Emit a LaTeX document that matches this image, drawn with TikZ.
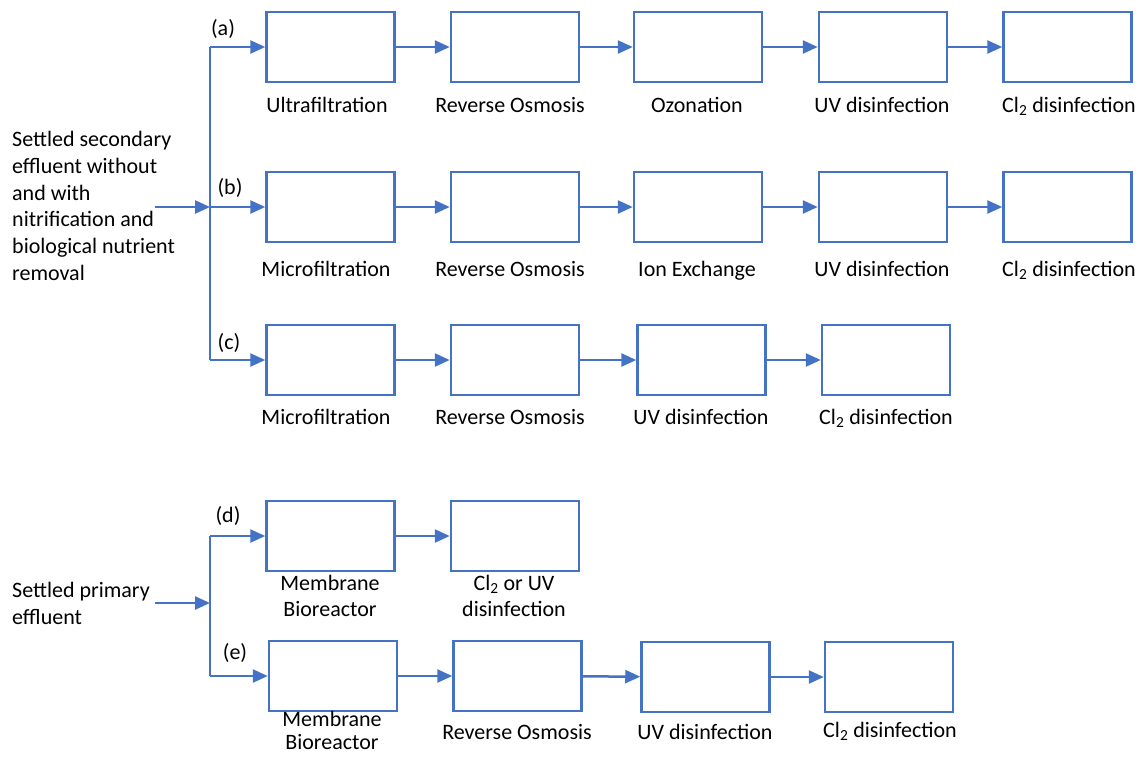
\documentclass[tikz,border=0pt]{standalone}
\usepackage{fontspec}
\setmainfont{Carlito}
\usetikzlibrary{arrows.meta}
\definecolor{flowblue}{HTML}{4472C4}
\begin{document}
\begin{tikzpicture}[x=1pt,y=-1pt,
  box/.style={draw=flowblue,line width=2.5pt,minimum width=128pt,minimum height=70pt,inner sep=0pt},
  flow/.style={draw=flowblue,line width=2.5pt,-{Triangle[length=15pt,width=13pt]}},
  line/.style={draw=flowblue,line width=2.5pt},
  lbl/.style={font=\fontsize{22}{26}\selectfont,inner sep=0pt,anchor=base},
  lbl2/.style={font=\fontsize{22}{26}\selectfont,inner sep=0pt,align=center,anchor=north},
  txt/.style={font=\fontsize{22}{26.8}\selectfont,inner sep=0pt,align=left,anchor=north west}]
\useasboundingbox (0,0) rectangle (1142,756);
% secondary effluent group
\node[txt] (src1) at (12,131) {Settled secondary\\effluent without\\and with\\nitrification and\\biological nutrient\\removal};
\coordinate (in1) at (155,207);
\coordinate (ta) at (210,47);
\coordinate (tb) at (210,207);
\coordinate (tc) at (210,360);
\draw[line] (ta) -- (tc);
\draw[flow] (in1) -- (tb);
% row a
\node[box] (a1) at (330.5,47) {};
\node[box] (a2) at (515,47) {};
\node[box] (a3) at (698,47) {};
\node[box] (a4) at (883,47) {};
\node[box] (a5) at (1067.5,47) {};
\node[lbl] (la) at (223,35) {(a)};
\draw[flow] (ta) -- (a1.west);
\draw[flow] (a1) -- (a2);
\draw[flow] (a2) -- (a3);
\draw[flow] (a3) -- (a4);
\draw[flow] (a4) -- (a5);
\node[lbl] (ta1) at (327,112) {Ultrafiltration};
\node[lbl] (ta2) at (510,112) {Reverse Osmosis};
\node[lbl] (ta3) at (697,112) {Ozonation};
\node[lbl] (ta4) at (882,112) {UV disinfection};
\node[lbl] (ta5) at (1069,112) {Cl\textsubscript{2} disinfection};
% row b
\node[box] (b1) at (330.5,207) {};
\node[box] (b2) at (515,207) {};
\node[box] (b3) at (698,207) {};
\node[box] (b4) at (883,207) {};
\node[box] (b5) at (1067.5,207) {};
\node[lbl] (lb) at (230,194) {(b)};
\draw[flow] (tb) -- (b1.west);
\draw[flow] (b1) -- (b2);
\draw[flow] (b2) -- (b3);
\draw[flow] (b3) -- (b4);
\draw[flow] (b4) -- (b5);
\node[lbl] (tb1) at (326,276) {Microfiltration};
\node[lbl] (tb2) at (510,276) {Reverse Osmosis};
\node[lbl] (tb3) at (697,276) {Ion Exchange};
\node[lbl] (tb4) at (882,276) {UV disinfection};
\node[lbl] (tb5) at (1069,276) {Cl\textsubscript{2} disinfection};
% row c
\node[box] (c1) at (330.5,360) {};
\node[box] (c2) at (515,360) {};
\node[box] (c3) at (701.5,360) {};
\node[box] (c4) at (886,360) {};
\node[lbl] (lc) at (229,349) {(c)};
\draw[flow] (tc) -- (c1.west);
\draw[flow] (c1) -- (c2);
\draw[flow] (c2) -- (c3);
\draw[flow] (c3) -- (c4);
\node[lbl] (tc1) at (326,424) {Microfiltration};
\node[lbl] (tc2) at (510,424) {Reverse Osmosis};
\node[lbl] (tc3) at (701,424) {UV disinfection};
\node[lbl] (tc4) at (886,424) {Cl\textsubscript{2} disinfection};
% primary effluent group
\node[txt] (src2) at (12,582) {Settled primary\\effluent};
\coordinate (in2) at (155,603);
\coordinate (td) at (210,536);
\coordinate (tm) at (210,603);
\coordinate (te) at (210,676);
\draw[line] (td) -- (te);
\draw[flow] (in2) -- (tm);
% row d
\node[box] (d1) at (330.5,536) {};
\node[box] (d2) at (515,536) {};
\node[lbl] (ld) at (228,522) {(d)};
\draw[flow] (td) -- (d1.west);
\draw[flow] (d1) -- (d2);
\node[lbl2] (td1) at (330,575) {Membrane\\Bioreactor};
\node[lbl2] (td2) at (514,575) {Cl\textsubscript{2} or UV\\disinfection};
% row e
\node[box] (e1) at (333,676) {};
\node[box] (e2) at (517.5,676) {};
\node[box] (e3) at (705.5,677) {};
\node[box] (e4) at (889,677) {};
\node[lbl] (le) at (235,659) {(e)};
\draw[flow] (te) -- (e1.west);
\draw[flow] (e1) -- (e2);
\draw[flow] (e2) -- (e3);
\draw[flow] (e3) -- (e4);
\node[lbl2,font=\fontsize{22}{23}\selectfont] (te1) at (332,711) {Membrane\\Bioreactor};
\node[lbl] (te2) at (517,739) {Reverse Osmosis};
\node[lbl] (te3) at (705,739) {UV disinfection};
\node[lbl] (te4) at (890,737) {Cl\textsubscript{2} disinfection};
\end{tikzpicture}
\end{document}
